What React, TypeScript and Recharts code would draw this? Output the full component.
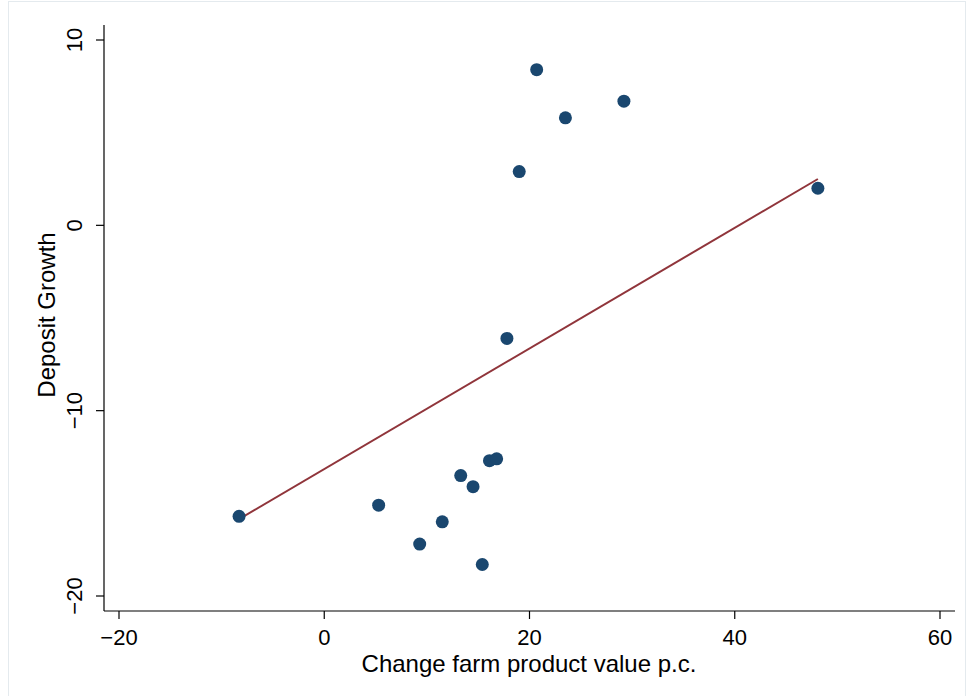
import { ScatterChart, Scatter, XAxis, YAxis, ReferenceLine } from 'recharts'

// farm product value change (x) vs deposit growth (y)
const changeFarm = [-8.3, 5.3, 9.3, 11.5, 13.3, 14.5, 15.4, 16.1, 16.8, 17.8, 19.0, 20.7, 23.5, 29.2, 48.1]
const depositGrowth = [-15.7, -15.1, -17.2, -16.0, -13.5, -14.1, -18.3, -12.7, -12.6, -6.1, 2.9, 8.4, 5.8, 6.7, 2.0]

// fitted line end points
const fitX = [-8.3, 48.1]
const fitY = [-15.85, 2.5]

const xTicks = [-20, 0, 20, 40, 60]
const yTicks = [-20, -10, 0, 10]

const FONT = '"Liberation Sans", Arial, Helvetica, sans-serif'
const DOT = '#1a476f'
const FIT = '#90353b'

const points = changeFarm.map((x, i) => ({ x, y: depositGrowth[i] }))

const fmt = (v: number) => (v < 0 ? `\u2212${Math.abs(v)}` : `${v}`)

function YTick(props: any) {
  const { x, y, payload } = props
  return (
    <text
      x={x}
      y={y}
      transform={`rotate(-90 ${x} ${y})`}
      textAnchor="middle"
      fontSize={22}
      fontFamily={FONT}
      fill="#000"
    >
      {fmt(payload.value)}
    </text>
  )
}

function Dot(props: any) {
  const { cx, cy } = props
  return <circle cx={cx} cy={cy} r={6.5} fill={DOT} />
}

export default function App() {
  return (
    <div style={{ position: 'absolute', left: 0, top: 0, width: 969, height: 696, background: '#fff', overflow: 'hidden' }}>
      <div
        style={{
          position: 'absolute',
          left: 8,
          top: 1,
          width: 958,
          height: 720,
          border: '1px solid #e4eaee',
          boxSizing: 'border-box',
        }}
      />
      <div style={{ position: 'absolute', left: 0, top: 0 }}>
        <ScatterChart width={969} height={696} margin={{ top: 25, right: 14, bottom: 0, left: 0 }}>
          <XAxis
            type="number"
            dataKey="x"
            domain={[-20, 60]}
            ticks={xTicks}
            padding={{ left: 15, right: 15 }}
            tickFormatter={fmt}
            tickSize={8}
            tickMargin={10}
            height={85}
            stroke="#000"
            strokeWidth={1.2}
            tick={{ fontSize: 22, fontFamily: FONT, fill: '#000' }}
            allowDataOverflow
            label={{
              content: () => (
                <text x={529} y={672} textAnchor="middle" fontSize={24} fontFamily={FONT} fill="#000">
                  Change farm product value p.c.
                </text>
              ),
            }}
          />
          <YAxis
            type="number"
            dataKey="y"
            domain={[-20, 10]}
            ticks={yTicks}
            padding={{ top: 15, bottom: 15 }}
            tickSize={8}
            tickMargin={14}
            width={104}
            stroke="#000"
            strokeWidth={1.2}
            tick={<YTick />}
            allowDataOverflow
            label={{
              content: () => (
                <text
                  x={55}
                  y={315}
                  transform="rotate(-90 55 315)"
                  textAnchor="middle"
                  fontSize={24}
                  fontFamily={FONT}
                  fill="#000"
                >
                  Deposit Growth
                </text>
              ),
            }}
          />
          <ReferenceLine
            segment={[
              { x: fitX[0], y: fitY[0] },
              { x: fitX[1], y: fitY[1] },
            ]}
            stroke={FIT}
            strokeWidth={2}
            ifOverflow="visible"
          />
          <Scatter data={points} shape={<Dot />} isAnimationActive={false} />
        </ScatterChart>
      </div>
    </div>
  )
}
